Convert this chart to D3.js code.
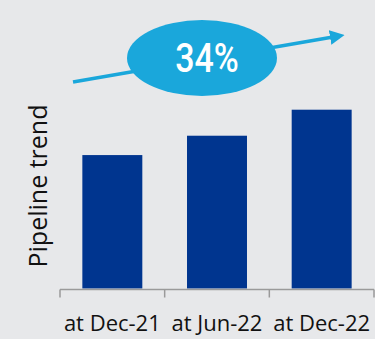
<!DOCTYPE html>
<html>
<head>
<meta charset="utf-8">
<script src="https://cdn.jsdelivr.net/npm/d3@7"></script>
<style>
  html, body { margin: 0; padding: 0; background: #e7e8ea; }
  svg { display: block; }
</style>
</head>
<body>
<svg id="chart" width="375" height="339"></svg>
<script>
// Pipeline index by reporting date (Dec-21 = 100)
const categories = ["at Dec-21", "at Jun-22", "at Dec-22"];
const pipelineValues = [100, 114.5, 134];
const yAxisTitle = "Pipeline trend";

const width = 375, height = 339;
const margin = { left: 60, right: 1 };
const baseline = 288.5;

const svg = d3.select("#chart");

svg.append("rect")
  .attr("width", width).attr("height", height)
  .attr("fill", "#e7e8ea");

const x = d3.scaleBand()
  .domain(categories)
  .range([margin.left, width - margin.right])
  .padding(0);

const y = d3.scaleLinear()
  .domain([0, 150])
  .range([baseline, baseline - 150 * 1.3343]);

const barW = x.bandwidth() * 0.573;

// Bars
svg.append("g")
  .selectAll("rect")
  .data(categories)
  .join("rect")
  .attr("x", d => x(d) + (x.bandwidth() - barW) / 2)
  .attr("width", barW)
  .attr("y", (d, i) => y(pipelineValues[i]))
  .attr("height", (d, i) => y(0) - y(pipelineValues[i]))
  .attr("fill", "#00358f");

// Category axis with ticks on band boundaries
const axisY = baseline + 1;
const axisG = svg.append("g").attr("class", "x-axis");
axisG.append("line")
  .attr("x1", x.range()[0]).attr("x2", x.range()[1])
  .attr("y1", axisY).attr("y2", axisY)
  .attr("stroke", "#9a9a9a").attr("stroke-width", 1.5);

const boundaries = categories.map(c => x(c)).concat([x.range()[1]]);
axisG.selectAll("line.tick")
  .data(boundaries)
  .join("line")
  .attr("class", "tick")
  .attr("x1", d => Math.min(d, width - 1)).attr("x2", d => Math.min(d, width - 1))
  .attr("y1", axisY).attr("y2", axisY + 8)
  .attr("stroke", "#9a9a9a").attr("stroke-width", 1.5);

axisG.selectAll("text")
  .data(categories)
  .join("text")
  .attr("x", d => x(d) + x.bandwidth() / 2)
  .attr("y", 331)
  .attr("text-anchor", "middle")
  .attr("font-family", "'Open Sans', 'Noto Sans', sans-serif")
  .attr("font-size", 22)
  .attr("fill", "#111")
  .text(d => d);

// Axis title
svg.append("text")
  .attr("transform", "translate(47,186) rotate(-90)")
  .attr("text-anchor", "middle")
  .attr("font-family", "'Open Sans', 'Noto Sans', sans-serif")
  .attr("font-size", 25)
  .attr("fill", "#111")
  .text(yAxisTitle);

// Growth arrow with badge
const accent = "#1aa7db";
svg.append("defs").append("marker")
  .attr("id", "arrowhead")
  .attr("viewBox", "0 0 10 10")
  .attr("refX", 2).attr("refY", 5)
  .attr("markerWidth", 4.2).attr("markerHeight", 4.2)
  .attr("orient", "auto")
  .append("path")
  .attr("d", "M0,0 L10,5 L0,10 Z")
  .attr("fill", accent);

svg.append("line")
  .attr("x1", 73).attr("y1", 82)
  .attr("x2", 333).attr("y2", 37)
  .attr("stroke", accent).attr("stroke-width", 3.5)
  .attr("marker-end", "url(#arrowhead)");

svg.append("ellipse")
  .attr("cx", 202).attr("cy", 58)
  .attr("rx", 75).attr("ry", 38)
  .attr("fill", accent);

const growth = pipelineValues[pipelineValues.length - 1] / pipelineValues[0] - 1;
svg.append("text")
  .attr("transform", "translate(207,72) scale(0.85,1)")
  .attr("text-anchor", "middle")
  .attr("font-family", "'Roboto', 'DejaVu Sans Condensed', sans-serif")
  .attr("font-weight", 500)
  .attr("font-size", 40)
  .attr("fill", "#ffffff")
  .text(d3.format(".0%")(Math.round(growth * 100) / 100));
</script>
</body>
</html>
